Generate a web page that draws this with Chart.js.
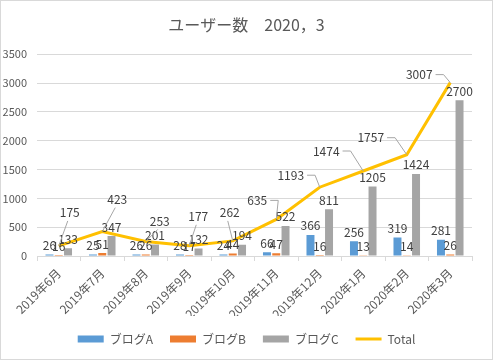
<!DOCTYPE html>
<html><head><meta charset="utf-8">
<script src="https://cdn.jsdelivr.net/npm/chart.js@4/dist/chart.umd.min.js"></script>
<style>
html,body{margin:0;padding:0;background:#fff;}
#wrap{width:493px;height:360px;box-sizing:border-box;border:1px solid #D9D9D9;position:relative;}
canvas{display:block;}
</style></head>
<body><div id="wrap"><canvas id="c" width="491" height="358"></canvas></div>
<script>
const categories = ['2019年6月','2019年7月','2019年8月','2019年9月','2019年10月','2019年11月','2019年12月','2020年1月','2020年2月','2020年3月'];
const blogA = [26, 25, 26, 28, 24, 66, 366, 256, 319, 281];
const blogB = [16, 51, 26, 17, 44, 47, 16, 13, 14, 26];
const blogC = [133, 347, 201, 132, 194, 522, 811, 1205, 1424, 2700];
const total = [175, 423, 253, 177, 262, 635, 1193, 1474, 1757, 3007];
const yTicks = [0, 500, 1000, 1500, 2000, 2500, 3000, 3500];

// label offsets for the Total line labels (dx, dy relative to point)
const totalLabelOffsets = [[11,-33],[15,-32],[14,-20],[9,-29],[-3,-28],[-19,-19],[-29,-12],[-37,-20],[-36,-17],[-31,-8]];

const FONT = '"Noto Sans CJK JP", "Noto Sans", sans-serif';
const TXT = '#595959';

const labelPlugin = {
  id: 'labels',
  afterDatasetsDraw(chart) {
    const ctx = chart.ctx;
    ctx.save();
    ctx.font = '12px ' + FONT;
    ctx.fillStyle = '#404040';
    [0,1,2].forEach(di => {
      const meta = chart.getDatasetMeta(di);
      const data = chart.data.datasets[di].data;
      meta.data.forEach((el, i) => {
        ctx.textAlign = 'center';
        ctx.textBaseline = 'bottom';
        ctx.fillText(String(data[i]), el.x, el.y - 3);
      });
    });
    const meta = chart.getDatasetMeta(3);
    const data = chart.data.datasets[3].data;
    meta.data.forEach((el, i) => {
      const [dx, dy] = totalLabelOffsets[i];
      const lx = el.x + dx, ly = el.y + dy;
      const txt = String(data[i]);
      const w = ctx.measureText(txt).width;
      ctx.strokeStyle = '#A6A6A6';
      ctx.lineWidth = 1;
      ctx.beginPath();
      if (dx < -12) {
        const sx = lx + w/2 + 3;
        ctx.moveTo(sx, ly);
        ctx.lineTo(sx + 8, ly);
        ctx.lineTo(el.x, el.y);
      } else {
        ctx.moveTo(lx - 2, ly + 8);
        ctx.lineTo(el.x, el.y);
      }
      ctx.stroke();
      ctx.textAlign = 'center';
      ctx.textBaseline = 'middle';
      ctx.fillStyle = '#404040';
      ctx.fillText(txt, lx, ly);
    });
    ctx.restore();
  }
};

new Chart(document.getElementById('c'), {
  data: {
    labels: categories,
    datasets: [
      {type:'bar', label:'ブログA', data: blogA, backgroundColor:'#5B9BD5', pointStyle:'rect', order:2, categoryPercentage:0.64, barPercentage:0.86},
      {type:'bar', label:'ブログB', data: blogB, backgroundColor:'#ED7D31', pointStyle:'rect', order:2, categoryPercentage:0.64, barPercentage:0.86},
      {type:'bar', label:'ブログC', data: blogC, backgroundColor:'#A5A5A5', pointStyle:'rect', order:2, categoryPercentage:0.64, barPercentage:0.86},
      {type:'line', label:'Total', data: total, borderColor:'#FFC000', backgroundColor:'#FFC000', borderWidth:3, pointRadius:0, pointStyle:'line', tension:0, order:1}
    ]
  },
  options: {
    responsive:false,
    animation:false,
    layout:{padding:{left:0,right:0,top:4,bottom:4}},
    plugins:{
      title:{display:true, text:'ユーザー数　2020，3', color:TXT, font:{family:FONT, size:16, weight:'normal'}, padding:{top:10,bottom:20}},
      legend:{position:'bottom', labels:{usePointStyle:true, pointStyleWidth:26, boxHeight:7, color:TXT, font:{family:FONT,size:12}, padding:17, sort:(a,b)=>a.datasetIndex-b.datasetIndex}},
      tooltip:{enabled:false}
    },
    scales:{
      x:{
        offset:true,
        grid:{display:true, drawOnChartArea:false, color:'#D9D9D9', tickLength:5, offset:true},
        border:{color:'#D9D9D9'},
        ticks:{color:TXT, font:{family:FONT,size:12}, maxRotation:45, minRotation:45, padding:5},
        afterFit(s){ s.height = 60; }
      },
      y:{
        min:0, max:3500,
        afterBuildTicks(s){ s.ticks = yTicks.map(v=>({value:v})); },
        afterFit(s){ s.width = 36; },
        grid:{color:'#D9D9D9', drawTicks:false},
        border:{display:false},
        ticks:{color:TXT, font:{family:FONT,size:11}, padding:10, callback:(v)=>String(v)}
      },
      yR:{
        position:'right', display:true,
        grid:{display:false}, border:{display:false},
        ticks:{display:false},
        afterFit(s){ s.width = 20; }
      }
    }
  },
  plugins:[labelPlugin]
});
</script></body></html>
